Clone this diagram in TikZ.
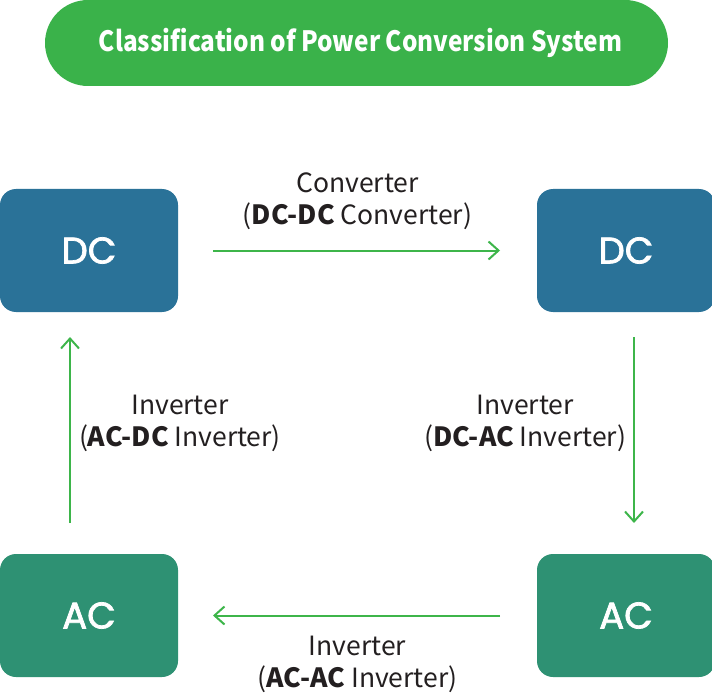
\documentclass[tikz,border=0pt]{standalone}
\usepackage{fontspec}
\setmainfont{Noto Sans CJK KR}
\newfontfamily\titlefont[FakeStretch=0.87]{Noto Sans CJK KR}
\newfontfamily\boxfont[FakeBold=2]{Poppins}
\usetikzlibrary{positioning}
\usetikzlibrary{arrows.meta}
\definecolor{titleGreen}{HTML}{3AB24A}
\definecolor{dcBlue}{HTML}{2A7298}
\definecolor{acGreen}{HTML}{2E9173}
\definecolor{arrowGreen}{HTML}{3DB54A}
\definecolor{textDark}{HTML}{231F20}
\tikzstyle{title} = [fill=titleGreen, text=white, rounded corners=43pt, minimum width=623pt, minimum height=86pt, inner sep=0pt, font=\titlefont\fontsize{28}{34}\selectfont\bfseries]
\tikzstyle{dcbox} = [fill=dcBlue, text=white, rounded corners=16pt, minimum width=178pt, minimum height=123pt, inner sep=0pt, outer sep=0pt, font=\boxfont\fontsize{37}{40}\selectfont]
\tikzstyle{acbox} = [dcbox, fill=acGreen]
\tikzstyle{flow} = [draw, arrowGreen, line width=2pt, -{Straight Barb[length=10pt, width=18pt, line width=2pt]}]
\tikzstyle{lbl} = [text=textDark, align=center, inner sep=0pt, font=\fontsize{26.5}{32}\selectfont]

\begin{document}
\begin{tikzpicture}[x=1pt, y=-1pt, node distance=359pt]
	\useasboundingbox (0,0) rectangle (712,695);
	\node[title] (pcsTitle) at (356.5,43) {\hspace*{8pt}Classification of Power Conversion System};
	\node[dcbox] (dcIn) at (89,250.5) {DC};
	\node[dcbox, right = of dcIn] (dcOut) {DC};
	\node[acbox, below = 242pt of dcOut] (acOut) {AC};
	\node[acbox, below = 242pt of dcIn] (acIn) {AC};
	
	\path[flow, shorten <=35pt, shorten >=37pt] (dcIn) -- (dcOut) node[lbl, midway, above=20pt] {Converter\\(\textbf{DC-DC} Converter)};
	\path[flow, shorten <=25pt, shorten >=31pt] ([xshift=8pt]dcOut.south) -- ([xshift=8pt]acOut.north) node[lbl, midway, left=7pt, yshift=10pt] {Inverter\\(\textbf{DC-AC} Inverter)};
	\path[flow, shorten <=37pt, shorten >=35pt] (acOut) -- (acIn) node[lbl, midway, below=20pt] {Inverter\\(\textbf{AC-AC} Inverter)};
	\path[flow, shorten <=31pt, shorten >=25pt] ([xshift=-19pt]acIn.north) -- ([xshift=-19pt]dcIn.south) node[lbl, midway, right=8pt, yshift=10pt] {Inverter\\(\textbf{AC-DC} Inverter)};
\end{tikzpicture}
\end{document}
